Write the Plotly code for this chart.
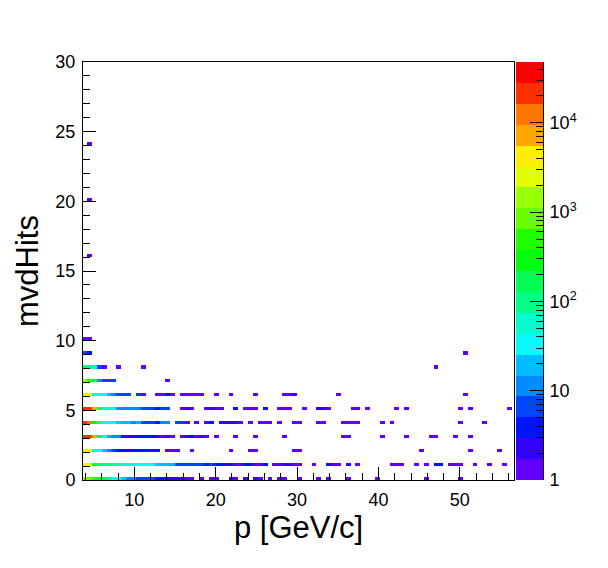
import numpy as np
import plotly.graph_objects as go

# histogram binning (p: 0.6 GeV/c bins, mvdHits: 0.25 bins)
P_BIN = 0.6
N_P = 100
HIT_BIN = 0.25
N_HIT = 120

# entries per mvdHits value -> {p bin index: entries}
hits_0 = {6: 1458, 7: 850, 8: 495, 9: 289, 10: 168, 11: 98, 12: 33, 13: 33, 14: 19,
          15: 11, 16: 11, 17: 7, 18: 7, 19: 7, 20: 7, 21: 4, 22: 4, 23: 4, 24: 2,
          25: 2, 26: 2, 27: 1, 28: 1, 30: 1, 32: 1, 33: 1, 36: 2, 37: 1, 39: 2,
          41: 2, 42: 1, 44: 1, 46: 1, 47: 1, 50: 1, 54: 1, 56: 1, 60: 1, 66: 1,
          76: 1, 83: 1}
hits_1 = {6: 4290, 7: 2500, 8: 289, 9: 98, 10: 98, 11: 98, 12: 98, 13: 57, 14: 57,
          15: 57, 16: 33, 17: 33, 18: 33, 19: 33, 20: 33, 21: 19, 22: 19, 23: 19,
          24: 19, 25: 7, 26: 7, 27: 7, 28: 7, 29: 7, 30: 7, 31: 4, 32: 7, 33: 4,
          34: 4, 35: 2, 36: 4, 37: 1, 38: 1, 39: 4, 40: 4, 41: 1, 42: 1, 43: 4,
          45: 1, 46: 1, 47: 2, 48: 2, 49: 1, 50: 1, 53: 1, 56: 4, 57: 1, 58: 1,
          60: 2, 62: 1, 69: 1, 70: 1, 71: 1, 74: 1, 76: 1, 78: 4, 79: 4, 81: 1,
          82: 1, 83: 1, 86: 1, 89: 1, 92: 1}
hits_2 = {6: 4290, 7: 2500, 8: 57, 9: 33, 10: 19, 11: 11, 12: 7, 13: 4, 14: 4,
          15: 2, 16: 4, 17: 4, 18: 4, 19: 4, 20: 2, 21: 4, 23: 1, 24: 1, 25: 1,
          28: 1, 36: 1, 40: 1, 41: 1, 49: 1, 50: 1, 75: 1, 85: 1, 91: 1}
hits_3 = {6: 21600, 7: 21600, 8: 7360, 9: 168, 10: 33, 11: 19, 12: 11, 13: 11,
          14: 2, 15: 2, 16: 2, 17: 4, 18: 4, 19: 4, 20: 4, 21: 2, 22: 1, 23: 2,
          24: 1, 26: 1, 27: 2, 28: 4, 29: 1, 30: 2, 31: 1, 33: 1, 37: 1, 41: 1,
          47: 1, 59: 1, 60: 1, 67: 1, 72: 1, 77: 1, 78: 1, 82: 1, 85: 1}
hits_4 = {6: 21600, 7: 12600, 8: 289, 9: 98, 10: 33, 11: 33, 12: 33, 13: 19,
          14: 19, 15: 19, 16: 11, 17: 19, 18: 7, 19: 7, 20: 7, 21: 4, 22: 11,
          23: 11, 25: 7, 26: 7, 27: 1, 29: 1, 31: 1, 32: 4, 34: 2, 35: 2, 36: 2,
          37: 2, 38: 1, 40: 1, 42: 1, 43: 1, 44: 1, 46: 1, 49: 1, 50: 1, 54: 1,
          55: 1, 59: 1, 60: 1, 61: 1, 62: 1, 67: 1, 69: 1, 83: 1, 88: 1}
hits_5 = {6: 21600, 7: 21600, 8: 7360, 9: 168, 10: 57, 11: 57, 12: 57, 13: 11,
          14: 11, 15: 11, 16: 11, 17: 11, 18: 7, 19: 7, 20: 7, 21: 4, 22: 7,
          23: 7, 26: 1, 27: 2, 28: 1, 31: 1, 32: 2, 33: 1, 34: 1, 37: 4, 39: 1,
          40: 1, 41: 1, 43: 4, 46: 1, 47: 1, 48: 1, 51: 1, 54: 2, 55: 2, 56: 1,
          61: 1, 62: 1, 64: 1, 70: 1, 72: 1, 83: 1, 85: 1, 93: 1}
hits_6 = {6: 4290, 7: 2500, 8: 57, 9: 33, 10: 33, 11: 19, 12: 11, 13: 7, 14: 7,
          15: 7, 17: 7, 18: 1, 21: 1, 22: 1, 23: 4, 24: 1, 26: 1, 27: 1, 28: 1,
          29: 1, 30: 1, 33: 1, 36: 1, 41: 1, 47: 1, 48: 1, 49: 2, 58: 1, 84: 1}
hits_7 = {6: 1458, 7: 495, 8: 168, 9: 11, 10: 7, 11: 7, 12: 7, 23: 1}
hits_8 = {6: 98, 7: 98, 8: 57, 9: 7, 10: 1, 13: 1, 18: 1, 78: 1}
hits_9 = {6: 7, 7: 4, 84: 1}
hits_10 = {6: 1, 7: 1}
hits_16 = {7: 1}
hits_20 = {7: 1}
hits_24 = {7: 1}

rows = {0: hits_0, 1: hits_1, 2: hits_2, 3: hits_3, 4: hits_4, 5: hits_5,
        6: hits_6, 7: hits_7, 8: hits_8, 9: hits_9, 10: hits_10, 16: hits_16,
        20: hits_20, 24: hits_24}

Z_MAX = 48000       # top of colour axis
N_LEVELS = 20       # ROOT contour levels

# ROOT "pretty" rainbow palette, 20 contour colours
palette = ["#6200ff", "#3300ff", "#0014ff", "#0044ff", "#008bff", "#00bbff",
           "#00fffc", "#00ffcc", "#00ff85", "#00ff55", "#00ff0e", "#22ff00",
           "#69ff00", "#99ff00", "#e0ff00", "#ffee00", "#ffa700", "#ff7700",
           "#ff3000", "#ff0000"]

p_centers = (np.arange(N_P) + 0.5) * P_BIN
hit_centers = (np.arange(N_HIT) + 0.5) * HIT_BIN
z = np.full((N_HIT, N_P), np.nan)
for nhits, row in rows.items():
    j = int(round(nhits / HIT_BIN))
    for i, n in row.items():
        z[j, i] = np.log10(n)

log_zmax = np.log10(Z_MAX)
cscale = []
for k, c in enumerate(palette):
    cscale.append([k / N_LEVELS, c])
    cscale.append([(k + 1) / N_LEVELS, c])

W, H = 608, 568
x0, x1, y0, y1 = 83, 514, 62, 480   # frame in pixels
cb0, cb1 = 516, 543

fig = go.Figure()
fig.add_trace(go.Heatmap(x=p_centers, y=hit_centers, z=z, zmin=0, zmax=log_zmax,
                         colorscale=cscale, showscale=False, hoverongaps=False,
                         xaxis="x", yaxis="y"))

# palette axis drawn as its own little heatmap so it can carry log minor ticks
lvl_edges = np.linspace(0, log_zmax, N_LEVELS + 1)
lvl_mid = (lvl_edges[:-1] + lvl_edges[1:]) / 2
fig.add_trace(go.Heatmap(x=[0], y=lvl_edges, z=[[v] for v in lvl_mid], zmin=0,
                         zmax=log_zmax, colorscale=cscale, showscale=False,
                         hoverinfo="skip", xaxis="x2", yaxis="y2"))

minor_vals = [np.log10(m * 10 ** d) for d in range(5) for m in range(2, 10)
              if m * 10 ** d < Z_MAX]

font = "Liberation Sans, Arial, Helvetica, sans-serif"
axcommon = dict(showline=True, linecolor="black", linewidth=1, showgrid=False,
                zeroline=False, ticks="inside", ticklen=13, tickcolor="black",
                tickfont=dict(size=18, color="black", family=font),
                automargin=False)

fig.update_layout(
    width=W, height=H,
    margin=dict(l=0, r=0, t=0, b=0),
    paper_bgcolor="white", plot_bgcolor="white",
    showlegend=False,
    xaxis=dict(domain=[x0 / W, x1 / W], range=[3.7, 56.65], anchor="y",
               dtick=10, tick0=0, mirror=True, ticklabelstandoff=3,
               minor=dict(dtick=2, tick0=0, ticks="inside", ticklen=7,
                          tickcolor="black", showgrid=False),
               **axcommon),
    yaxis=dict(domain=[1 - y1 / H, 1 - y0 / H], range=[0, 30], anchor="x",
               dtick=5, tick0=0, mirror=True, ticklabelstandoff=3,
               minor=dict(dtick=1, tick0=0, ticks="inside", ticklen=7,
                          tickcolor="black", showgrid=False),
               **axcommon),
    xaxis2=dict(domain=[cb0 / W, cb1 / W], range=[-0.5, 0.5], anchor="y2",
                visible=False, fixedrange=True),
    yaxis2=dict(domain=[1 - y1 / H, 1 - y0 / H], range=[0, log_zmax], anchor="x2",
                side="right", tickmode="array", tickvals=[0, 1, 2, 3, 4],
                ticktext=["1", "10", "10<sup>2</sup>", "10<sup>3</sup>",
                          "10<sup>4</sup>"],
                minor=dict(tickmode="array", tickvals=minor_vals, ticks="inside",
                           ticklen=7, tickcolor="black", showgrid=False),
                ticklabelstandoff=2, fixedrange=True, **axcommon),
    annotations=[
        dict(text="p [GeV/c]", x=298.5 / W, y=1 - 527 / H, xref="paper",
             yref="paper", showarrow=False, xanchor="center", yanchor="middle",
             font=dict(size=31, color="black", family=font)),
        dict(text="mvdHits", x=27 / W, y=1 - 271 / H, xref="paper", yref="paper",
             showarrow=False, textangle=-90, xanchor="center", yanchor="middle",
             font=dict(size=31, color="black", family=font)),
    ],
)

# drop the browser's default 8px body margin so the figure sits at (0, 0)
fig.write_html("out.html", config={"displayModeBar": False},
               post_script="document.body.style.margin='0';")
